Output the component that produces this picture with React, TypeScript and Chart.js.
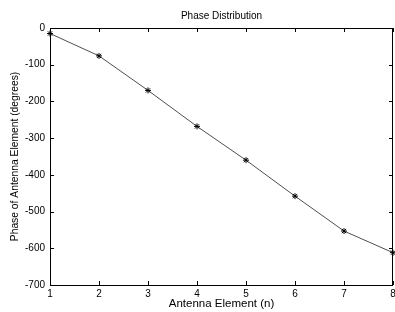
import React, { useEffect, useRef } from "react";
import { Chart, registerables } from "chart.js";

Chart.register(...registerables);

const elements = [1, 2, 3, 4, 5, 6, 7, 8];
const phase = [-15, -76, -170, -268, -360, -458, -553, -612];
const yTicks = [0, -100, -200, -300, -400, -500, -600, -700];

const FONT = "Arial, 'Liberation Sans', Helvetica, sans-serif";

const frameTicks = {
  id: "frameTicks",
  afterDraw(chart: any) {
    const { ctx, chartArea } = chart;
    const { left, right, top, bottom } = chartArea;
    const xs = chart.scales.x;
    const ys = chart.scales.y;
    ctx.save();
    ctx.strokeStyle = "#000";
    ctx.lineWidth = 1;
    ctx.beginPath();
    ctx.rect(Math.round(left) + 0.5, Math.round(top) + 0.5, Math.round(right - left) - 1, Math.round(bottom - top));
    ctx.stroke();
    const L = 4;
    ctx.beginPath();
    for (const v of elements) {
      const x = Math.round(xs.getPixelForValue(v)) + 0.5;
      ctx.moveTo(x, bottom);
      ctx.lineTo(x, bottom - L);
      ctx.moveTo(x, top);
      ctx.lineTo(x, top + L);
    }
    for (const v of yTicks) {
      const y = Math.round(ys.getPixelForValue(v)) + 0.5;
      ctx.moveTo(left, y);
      ctx.lineTo(left + L, y);
      ctx.moveTo(right, y);
      ctx.lineTo(right - L, y);
    }
    ctx.stroke();
    ctx.restore();
  },
};

export default function App() {
  const ref = useRef<HTMLCanvasElement | null>(null);
  useEffect(() => {
    document.body.style.margin = "0";
    const canvas = ref.current!;
    const chart = new Chart(canvas, {
      type: "line",
      data: {
        datasets: [
          {
            data: elements.map((e, i) => ({ x: e, y: phase[i] })),
            borderColor: "#222",
            borderWidth: 0.8,
            pointStyle: "star",
            pointRadius: 3,
            pointBorderColor: "#000",
            pointBorderWidth: 1,
            pointBackgroundColor: "#000",
            tension: 0,
            clip: 6,
          },
        ],
      },
      options: {
        responsive: false,
        animation: false,
        layout: { autoPadding: false, padding: { left: 0, right: 2, top: 0, bottom: 0 } },
        plugins: {
          legend: { display: false },
          tooltip: { enabled: false },
          title: {
            display: true,
            fullSize: false,
            text: "Phase Distribution",
            color: "#000",
            font: { family: FONT, size: 10, weight: "normal" },
            padding: { top: 10, bottom: 6 },
          },
        },
        scales: {
          x: {
            type: "linear",
            min: 1,
            max: 8,
            grid: { display: false, drawTicks: false },
            border: { display: false },
            ticks: {
              stepSize: 1,
              color: "#000",
              padding: 3,
              font: { family: FONT, size: 10 },
            },
            title: {
              display: true,
              text: "Antenna Element (n)",
              color: "#000",
              font: { family: FONT, size: 11.5 },
              padding: { top: 0, bottom: 1 },
            },
            afterFit(scale: any) {
              scale.height = 27;
              scale.paddingLeft = 0;
              scale.paddingRight = 0;
            },
          },
          y: {
            type: "linear",
            min: -700,
            max: 0,
            grid: { display: false, drawTicks: false },
            border: { display: false },
            ticks: {
              stepSize: 100,
              color: "#000",
              padding: 5,
              font: { family: FONT, size: 10 },
            },
            title: {
              display: true,
              text: "Phase of Antenna Element (degrees)",
              color: "#000",
              font: { family: FONT, size: 10.3 },
              padding: { top: 9, bottom: 0 },
            },
            afterFit(scale: any) {
              scale.width = 50;
              scale.paddingTop = 0;
              scale.paddingBottom = 0;
            },
          },
        },
      },
      plugins: [frameTicks],
    });
    return () => chart.destroy();
  }, []);
  return (
    <div style={{ width: 395, height: 312, background: "#fff" }}>
      <canvas ref={ref} width={395} height={312} />
    </div>
  );
}
